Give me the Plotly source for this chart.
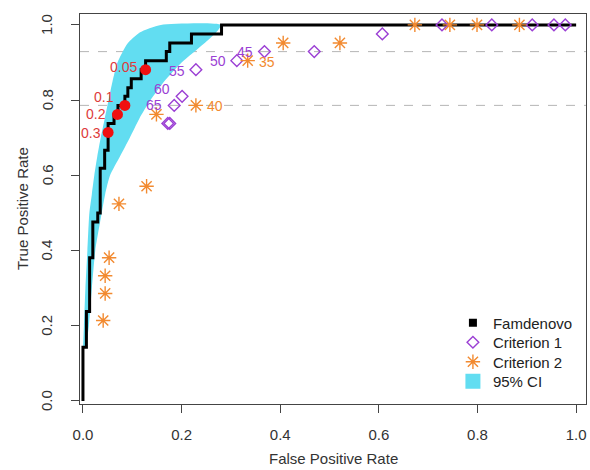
import plotly.graph_objects as go

# ---------------- data ----------------
# Famdenovo ROC curve corner points (step curve)
roc_fpr = [0.0, 0.007, 0.0135, 0.020, 0.030, 0.035, 0.044, 0.051, 0.063, 0.071,
           0.085, 0.091, 0.098, 0.118, 0.127, 0.169, 0.176, 0.220, 0.281, 1.0]
roc_tpr = [0.0, 0.143, 0.238, 0.381, 0.476, 0.500, 0.619, 0.667, 0.738, 0.762,
           0.786, 0.810, 0.833, 0.857, 0.881, 0.905, 0.929, 0.952, 0.976, 1.0]

# 95% CI band
ci_tpr = [0.14, 0.20, 0.30, 0.40, 0.50, 0.55, 0.60, 0.65, 0.70, 0.75, 0.80, 0.85, 0.90, 0.95, 0.98, 1.0]
ci_fpr_low = [0.000, 0.002, 0.005, 0.009, 0.013, 0.018, 0.023, 0.029, 0.036, 0.044,
              0.052, 0.060, 0.070, 0.090, 0.115, 0.158]
ci_fpr_high = [0.006, 0.012, 0.018, 0.025, 0.038, 0.045, 0.055, 0.075, 0.095, 0.114,
               0.137, 0.165, 0.200, 0.245, 0.270, 0.280]

# Famdenovo thresholds
thr_labels = ["0.05", "0.1", "0.2", "0.3"]
thr_fpr = [0.127, 0.085, 0.070, 0.051]
thr_tpr = [0.881, 0.786, 0.762, 0.714]

# Criterion 1
c1_fpr = [0.172, 0.176, 0.185, 0.201, 0.229, 0.312, 0.368, 0.469, 0.607,
          0.728, 0.829, 0.911, 0.955, 0.978]
c1_tpr = [0.738, 0.738, 0.786, 0.810, 0.881, 0.905, 0.929, 0.929, 0.976,
          1.0, 1.0, 1.0, 1.0, 1.0]
c1_labels = ["", "", "65", "60", "55", "50", "45", "", "", "", "", "", "", ""]

# Criterion 2
c2_fpr = [0.041, 0.045, 0.045, 0.053, 0.073, 0.129, 0.149, 0.229, 0.334,
          0.406, 0.521, 0.673, 0.744, 0.799, 0.885]
c2_tpr = [0.214, 0.286, 0.333, 0.381, 0.524, 0.571, 0.762, 0.786, 0.905,
          0.952, 0.952, 1.0, 1.0, 1.0, 1.0]
c2_labels = ["", "", "", "", "", "", "", "40", "35", "", "", "", "", "", ""]

ref_tpr = [0.929, 0.786]

x_ticks = [0.0, 0.2, 0.4, 0.6, 0.8, 1.0]
y_ticks = [0.0, 0.2, 0.4, 0.6, 0.8, 1.0]

legend_names = ["Famdenovo", "Criterion 1", "Criterion 2", "95% CI"]

# ---------------- styles ----------------
FONT = "Liberation Sans, Arial, sans-serif"
CYAN = "#62DDF1"
PURPLE = "#9B3FD4"
ORANGE = "#F28A30"
RED = "#F01010"
RED_TXT = "#DD3B3B"
TXT = "#333333"

fig = go.Figure()

# CI band polygon
band_x = ci_fpr_low + ci_fpr_high[::-1]
band_y = ci_tpr + ci_tpr[::-1]
fig.add_trace(go.Scatter(x=band_x, y=band_y, fill="toself", fillcolor=CYAN,
                         line=dict(shape="spline", smoothing=0.6, width=0),
                         mode="lines", showlegend=False, hoverinfo="skip"))

for r in ref_tpr:
    fig.add_hline(y=r, line=dict(color="#B5B5B5", width=1, dash="dash"), layer="below")

# ROC curve
fig.add_trace(go.Scatter(x=roc_fpr, y=roc_tpr, mode="lines", line_shape="vh",
                         line=dict(color="black", width=3), showlegend=False))

c1_marker = dict(symbol="diamond-open", size=9, color=PURPLE, line=dict(width=1.4, color=PURPLE))
c2_marker = dict(symbol="asterisk-open", size=12, color=ORANGE, line=dict(width=1.4, color=ORANGE))

fig.add_trace(go.Scatter(x=c1_fpr, y=c1_tpr, mode="markers", name="Criterion 1",
                         marker=c1_marker, showlegend=False))
fig.add_trace(go.Scatter(x=c2_fpr, y=c2_tpr, mode="markers", name="Criterion 2",
                         marker=c2_marker, showlegend=False))

# threshold points
fig.add_trace(go.Scatter(x=thr_fpr, y=thr_tpr, mode="markers",
                         marker=dict(symbol="circle", size=11, color=RED),
                         showlegend=False))

# legend entries (one legend per row to control the row spacing)
legend_markers = [dict(symbol="square", size=8, color="black"), c1_marker, c2_marker,
                  dict(symbol="square", size=15, color=CYAN)]
legend_ids = ["legend", "legend2", "legend3", "legend4"]
for name, mk, lid in zip(legend_names, legend_markers, legend_ids):
    fig.add_trace(go.Scatter(x=[None], y=[None], mode="markers", name=name,
                             marker=mk, legend=lid, showlegend=True))

# labels
thr_shift = {"0.05": (-7, 3), "0.1": (-9, 8), "0.2": (-9, 0), "0.3": (-5, -1)}
for lab, x, y in zip(thr_labels, thr_fpr, thr_tpr):
    dx, dy = thr_shift[lab]
    fig.add_annotation(x=x, y=y, text=lab, showarrow=False, xanchor="right",
                       xshift=dx, yshift=dy, font=dict(size=14, color=RED_TXT, family=FONT))
c1_shift = {"45": (-9, 0), "50": (-9, 0), "55": (-9, -1), "60": (-10, 7), "65": (-10, 0)}
for lab, x, y in zip(c1_labels, c1_fpr, c1_tpr):
    if lab:
        dx, dy = c1_shift[lab]
        fig.add_annotation(x=x, y=y, text=lab, showarrow=False, xanchor="right",
                           xshift=dx, yshift=dy, font=dict(size=14, color=PURPLE, family=FONT))
for lab, x, y in zip(c2_labels, c2_fpr, c2_tpr):
    if lab:
        fig.add_annotation(x=x, y=y, text=lab, showarrow=False, xanchor="left",
                           xshift=9, yshift=-1, font=dict(size=14, color=ORANGE, family=FONT))

# y tick labels (rotated, R style)
for v in y_ticks:
    fig.add_annotation(xref="paper", yref="y", x=-0.0652, y=v, text=f"{v:.1f}",
                       showarrow=False, xanchor="center", yanchor="middle", textangle=-90,
                       font=dict(size=15, color=TXT, family=FONT))

# axis titles
fig.add_annotation(xref="paper", yref="paper", x=0.5, y=-0.141, text="False Positive Rate",
                   showarrow=False, xanchor="center", yanchor="middle",
                   font=dict(size=15, color=TXT, family=FONT))
fig.add_annotation(xref="paper", yref="paper", x=-0.1146, y=0.5, text="True Positive Rate",
                   showarrow=False, xanchor="center", yanchor="middle", textangle=-90,
                   font=dict(size=15, color=TXT, family=FONT))

axis_common = dict(showgrid=False, zeroline=False, showline=True, linecolor="#444",
                   linewidth=1, mirror=True, ticks="outside", ticklen=8, tickcolor="#444",
                   automargin=False,
                   tickfont=dict(size=15, color=TXT, family=FONT))

leg_common = dict(x=0.737, xanchor="left", yanchor="top", bgcolor="rgba(0,0,0,0)",
                  font=dict(size=15, color="#222", family=FONT), itemwidth=30)

fig.update_layout(
    width=590, height=470,
    margin=dict(l=80, r=4, t=14, b=66),
    paper_bgcolor="white", plot_bgcolor="white",
    font=dict(family=FONT, color=TXT),
    xaxis=dict(range=[-0.006, 1.02], tickvals=x_ticks,
               ticktext=[f"{v:.1f}" for v in x_ticks], ticklabelstandoff=9,
               **axis_common),
    yaxis=dict(range=[-0.008, 1.029], tickvals=y_ticks, showticklabels=False,
               **axis_common),
    legend=dict(y=0.25, **leg_common),
    legend2=dict(y=0.20, **leg_common),
    legend3=dict(y=0.15, **leg_common),
    legend4=dict(y=0.10, **leg_common),
    showlegend=True,
)

fig.write_html("out.html", config={"displayModeBar": False},
               post_script="document.body.style.margin='0px';document.body.style.overflow='hidden';")
